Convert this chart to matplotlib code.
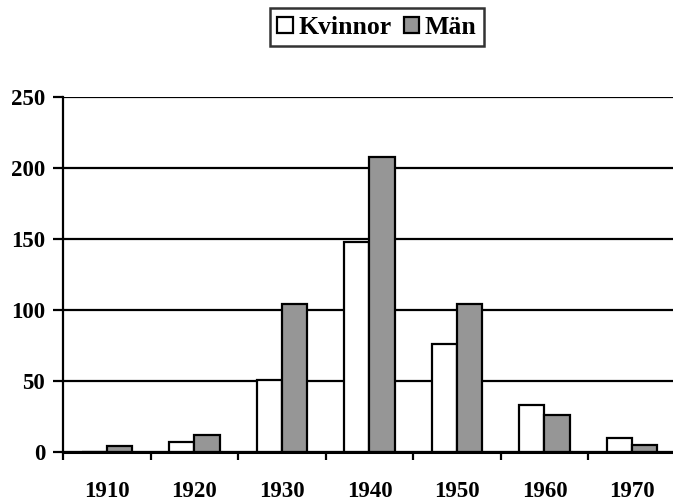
import numpy as np
import matplotlib
matplotlib.use("Agg")
import matplotlib.pyplot as plt

# -----------------------------
# Data
# -----------------------------
decades = ["1910", "1920", "1930", "1940", "1950", "1960", "1970"]
kvinnor = [0, 7, 51, 148, 76, 33, 10]
man = [4, 12, 104, 208, 104, 26, 5]
y_ticks = [0, 50, 100, 150, 200, 250]

plt.rcParams["font.family"] = ["Liberation Serif", "DejaVu Serif"]
plt.rcParams["font.weight"] = "bold"

fig = plt.figure(figsize=(6.73, 5.04), dpi=100)
ax = fig.add_axes([0.094, 0.103, 0.91, 0.7045])

x = np.arange(len(decades)) + 0.5
w = 0.29

ax.bar(x - w / 2, kvinnor, width=w, color="white", edgecolor="black",
       linewidth=1.6, label="Kvinnor", zorder=3)
ax.bar(x + w / 2, man, width=w, color="#969696", edgecolor="black",
       linewidth=1.6, label="Män", zorder=3)

# -----------------------------
# Axes styling
# -----------------------------
ax.set_xlim(0, len(decades))
ax.set_ylim(0, 250)
ax.set_yticks(y_ticks)
ax.set_yticklabels([str(v) for v in y_ticks], fontsize=16.5, fontweight="bold")
ax.yaxis.grid(True, color="black", linewidth=1.6, zorder=0)
ax.set_axisbelow(True)

ax.set_xticks(np.arange(len(decades) + 1))
ax.set_xticklabels([])
ax.set_xticks(x, minor=True)
ax.set_xticklabels(decades, minor=True, fontsize=16.5, fontweight="bold")
ax.tick_params(axis="x", which="minor", length=0, pad=21)
ax.tick_params(axis="x", which="major", direction="out", length=6, width=1.6)
ax.tick_params(axis="y", direction="out", length=7, width=1.6, pad=6)

for side in ["top", "right"]:
    ax.spines[side].set_visible(False)
ax.spines["left"].set_linewidth(1.6)
ax.spines["bottom"].set_linewidth(2.2)
ax.spines["bottom"].set_zorder(4)

leg = fig.legend(loc="upper center", bbox_to_anchor=(0.56, 0.984), ncol=2,
                 frameon=True, fancybox=False, edgecolor="black",
                 prop={"size": 18.5, "weight": "bold"},
                 handlelength=0.6, handleheight=0.6, handletextpad=0.2,
                 columnspacing=0.5, borderpad=0.3, borderaxespad=0)
leg.get_frame().set_linewidth(1.8)

plt.savefig("out.png", dpi=100)
plt.close()
